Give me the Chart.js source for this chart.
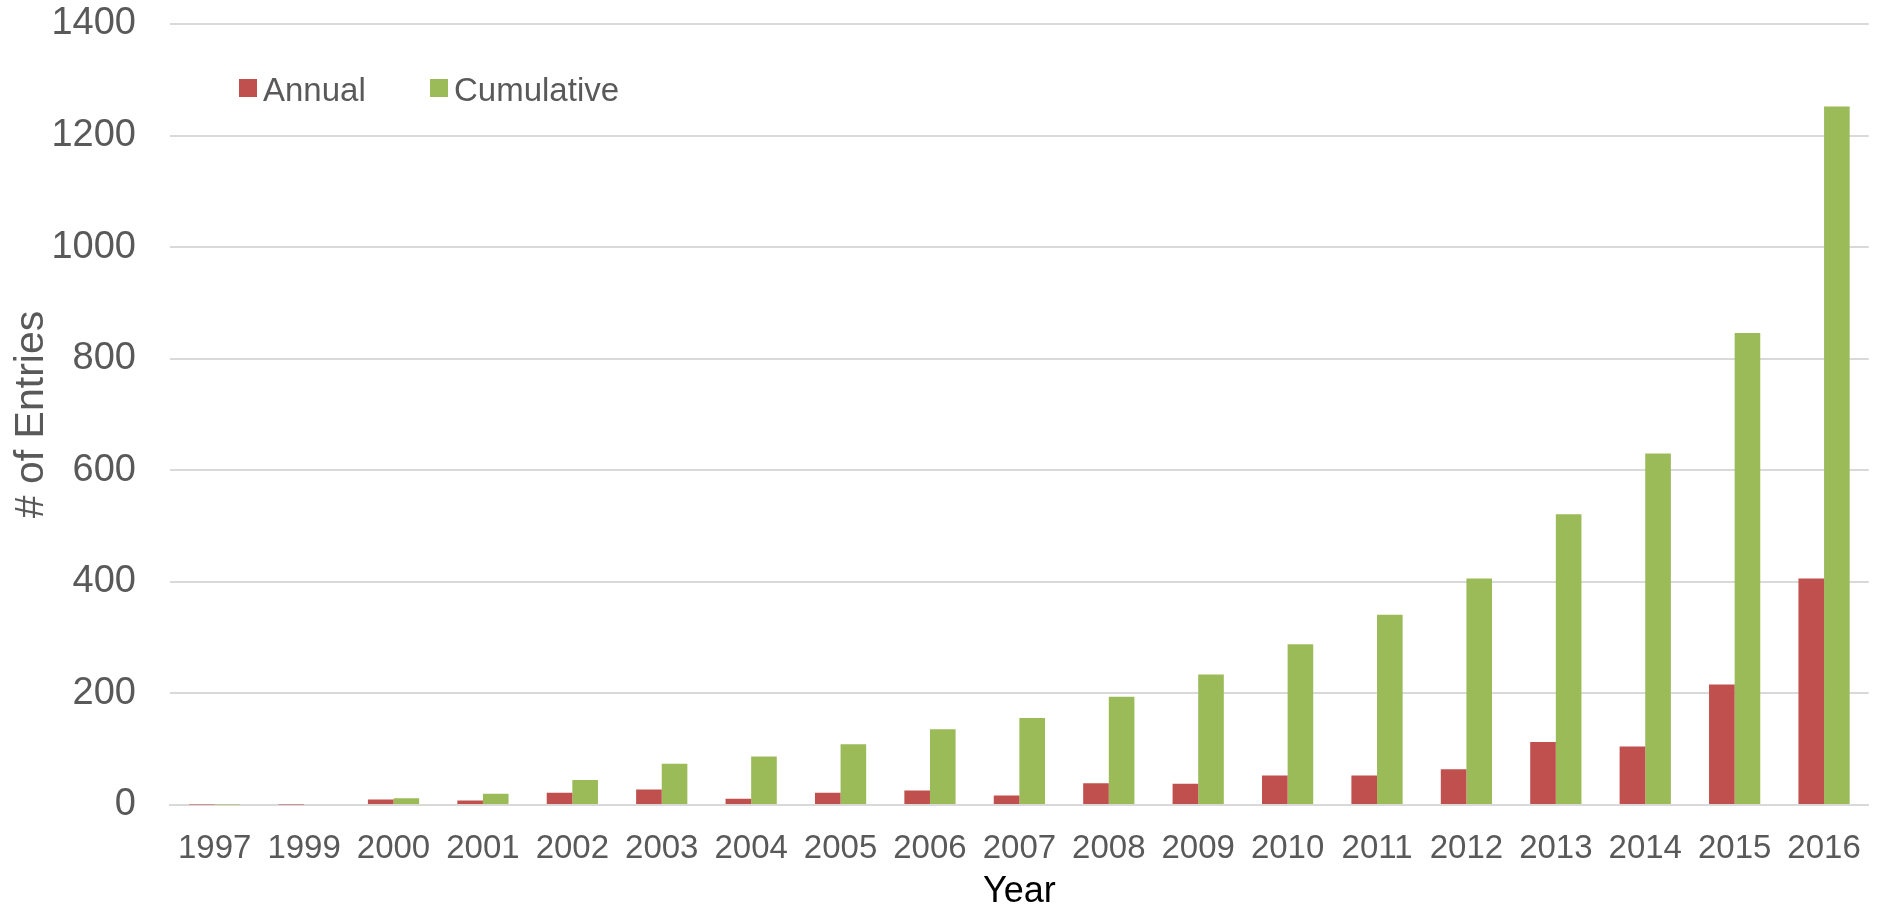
<!DOCTYPE html>
<html>
<head>
<meta charset="utf-8">
<script src="https://cdn.jsdelivr.net/npm/chart.js@4/dist/chart.umd.min.js"></script>
<style>
  html, body { margin: 0; padding: 0; background: #ffffff; }
  #wrap { position: relative; width: 1885px; height: 906px; }
</style>
</head>
<body>
<div id="wrap"><canvas id="c"></canvas></div>
<script>
const years = ["1997","1999","2000","2001","2002","2003","2004","2005","2006","2007","2008","2009","2010","2011","2012","2013","2014","2015","2016"];
const annual = [1, 1, 10, 8, 22, 28, 11, 22, 26, 17, 39, 38, 53, 53, 64, 113, 105, 216, 406];
const cumulative = [1, 2, 12, 20, 45, 74, 87, 109, 136, 156, 194, 234, 288, 341, 406, 521, 630, 846, 1252];
const seriesNames = ["Annual", "Cumulative"];
const seriesColors = ["#C0504D", "#9BBB59"];
const yTitle = "# of Entries";
const xTitle = "Year";

const FONT = "'Liberation Sans', Arial, sans-serif";
Chart.defaults.font.family = FONT;
Chart.defaults.color = "#595959";

const insideLegend = {
  id: 'insideLegend',
  afterDraw(chart) {
    const ctx = chart.ctx;
    const area = chart.chartArea;
    ctx.save();
    ctx.font = "33px " + FONT;
    ctx.textBaseline = 'alphabetic';
    ctx.textAlign = 'left';
    const boxX = [area.left + 69, area.left + 260];
    chart.data.datasets.forEach((ds, i) => {
      const bx = boxX[i];
      ctx.fillStyle = ds.backgroundColor;
      ctx.fillRect(bx, 79, 18, 18);
      ctx.fillStyle = "#595959";
      ctx.fillText(ds.label, bx + 24, 101);
    });
    ctx.restore();
  }
};

new Chart(document.getElementById('c'), {
  type: 'bar',
  data: {
    labels: years,
    datasets: [
      { label: seriesNames[0], data: annual, backgroundColor: seriesColors[0], borderWidth: 0 },
      { label: seriesNames[1], data: cumulative, backgroundColor: seriesColors[1], borderWidth: 0 }
    ]
  },
  options: {
    responsive: true,
    maintainAspectRatio: false,
    animation: false,
    layout: { padding: { top: 24, right: 9, left: 0, bottom: 0 } },
    datasets: { bar: { categoryPercentage: 0.573, barPercentage: 1.0 } },
    plugins: {
      legend: { display: false },
      tooltip: { enabled: false }
    },
    scales: {
      x: {
        grid: { display: false, drawTicks: false },
        border: { display: true, color: "#d9d9d9", width: 2 },
        ticks: { font: { size: 33 }, color: "#595959", padding: 24, maxRotation: 0, autoSkip: false },
        title: { display: true, text: xTitle, color: "#000000", font: { size: 36, lineHeight: 0.8 }, padding: { top: 0, bottom: 0 } },
        afterFit(scale) { scale.height = 101; }
      },
      y: {
        min: 0, max: 1400,
        grid: { color: "#d9d9d9", lineWidth: 2, drawTicks: false },
        border: { display: false },
        ticks: { stepSize: 200, font: { size: 38 }, color: "#595959", padding: 34, callback: (v) => String(v) },
        title: { display: true, text: yTitle, color: "#595959", font: { size: 41, lineHeight: 1.2 }, padding: { top: 7, bottom: 0 } },
        afterFit(scale) { scale.width = 170; scale.paddingTop = 0; scale.paddingBottom = 0; }
      }
    }
  },
  plugins: [insideLegend]
});
</script>
</body>
</html>
